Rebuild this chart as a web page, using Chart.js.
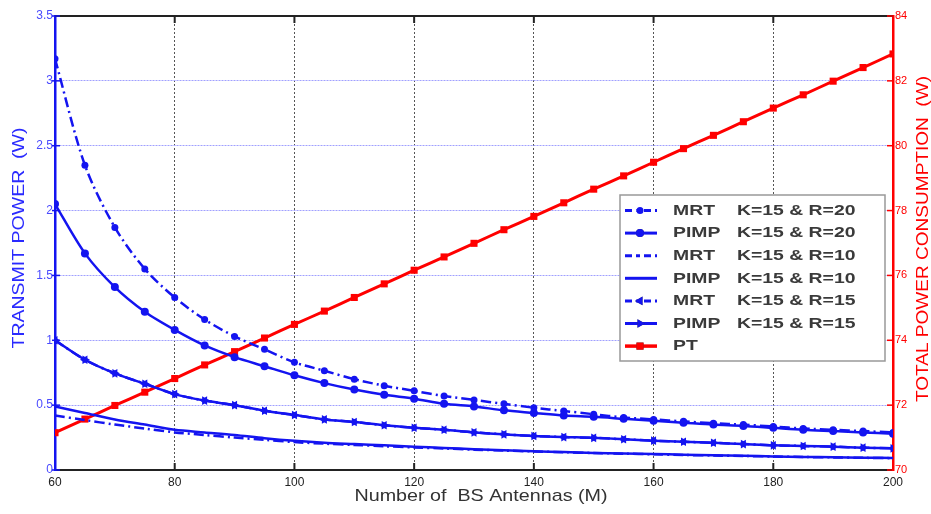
<!DOCTYPE html>
<html>
<head>
<meta charset="utf-8">
<script src="https://cdn.jsdelivr.net/npm/chart.js@4.4.0/dist/chart.umd.min.js"></script>
<style>
  html, body { margin: 0; padding: 0; background: #fff; }
  #wrap { width: 931px; height: 514px; position: relative; }
</style>
</head>
<body>
<div id="wrap"><canvas id="myChart" width="931" height="514"></canvas></div>
<script>
// number of BS antennas
const antennas = [60, 65, 70, 75, 80, 85, 90, 95, 100, 105, 110, 115, 120, 125, 130, 135, 140, 145, 150, 155, 160, 165, 170, 175, 180, 185, 190, 195, 200];

// transmit power (W), left axis
const mrtR20 = [3.17, 2.35, 1.87, 1.55, 1.33, 1.16, 1.03, 0.93, 0.83, 0.765, 0.70, 0.65, 0.61, 0.57, 0.54, 0.51, 0.48, 0.455, 0.43, 0.405, 0.39, 0.375, 0.36, 0.35, 0.335, 0.32, 0.31, 0.30, 0.29];
const pimpR20 = [2.05, 1.67, 1.41, 1.22, 1.08, 0.96, 0.87, 0.80, 0.73, 0.67, 0.62, 0.58, 0.55, 0.51, 0.49, 0.46, 0.44, 0.42, 0.41, 0.395, 0.38, 0.365, 0.35, 0.34, 0.325, 0.31, 0.30, 0.29, 0.28];
const mrtR10 = [0.42, 0.385, 0.35, 0.32, 0.29, 0.27, 0.25, 0.233, 0.215, 0.203, 0.193, 0.183, 0.174, 0.166, 0.157, 0.15, 0.143, 0.137, 0.131, 0.126, 0.121, 0.116, 0.112, 0.108, 0.104, 0.100, 0.097, 0.094, 0.091];
const pimpR10 = [0.49, 0.44, 0.39, 0.35, 0.31, 0.29, 0.27, 0.245, 0.225, 0.21, 0.20, 0.19, 0.18, 0.17, 0.16, 0.152, 0.145, 0.138, 0.132, 0.128, 0.123, 0.118, 0.113, 0.109, 0.105, 0.101, 0.098, 0.095, 0.092];
const mrtR15 = [1.0, 0.85, 0.745, 0.665, 0.585, 0.535, 0.50, 0.457, 0.424, 0.39, 0.37, 0.345, 0.326, 0.31, 0.29, 0.275, 0.262, 0.254, 0.248, 0.237, 0.226, 0.218, 0.21, 0.20, 0.19, 0.185, 0.18, 0.172, 0.167];
const pimpR15 = [1.0, 0.85, 0.745, 0.665, 0.585, 0.535, 0.50, 0.457, 0.424, 0.39, 0.37, 0.345, 0.326, 0.31, 0.29, 0.275, 0.262, 0.254, 0.248, 0.237, 0.226, 0.218, 0.21, 0.20, 0.19, 0.185, 0.18, 0.172, 0.167];

// total power consumption (W), right axis
const totalPower = [71.15, 71.57, 71.99, 72.40, 72.82, 73.24, 73.65, 74.07, 74.49, 74.90, 75.32, 75.74, 76.16, 76.57, 76.99, 77.41, 77.82, 78.24, 78.66, 79.07, 79.49, 79.91, 80.32, 80.74, 81.16, 81.57, 81.99, 82.41, 82.83];

const schemes = ["MRT", "PIMP", "MRT", "PIMP", "MRT", "PIMP", "PT"];
const params = ["K=15 & R=20", "K=15 & R=20", "K=15 & R=10", "K=15 & R=10", "K=15 & R=15", "K=15 & R=15", ""];

const xTitle = "Number of  BS Antennas (M)";
const yTitle = "TRANSMIT POWER  (W)";
const y2Title = "TOTAL POWER CONSUMPTION  (W)";

const BLUE = "#1414f0";
const RED = "#ff0000";
const DASHDOT = [10, 4, 2, 4];
const FONT = "'Liberation Sans', Arial, sans-serif";

const pts = (arr) => arr.map((v, i) => ({ x: antennas[i], y: v }));

const datasets = [
  { data: pts(mrtR20), borderDash: DASHDOT, pointStyle: "circle", pointRadius: 3.5 },
  { data: pts(pimpR20), borderDash: [], pointStyle: "circle", pointRadius: 4 },
  { data: pts(mrtR10), borderDash: DASHDOT, pointStyle: false, pointRadius: 0 },
  { data: pts(pimpR10), borderDash: [], pointStyle: false, pointRadius: 0 },
  { data: pts(mrtR15), borderDash: DASHDOT, pointStyle: "triangle", pointRotation: -90, pointRadius: 5 },
  { data: pts(pimpR15), borderDash: [], pointStyle: "triangle", pointRotation: 90, pointRadius: 5 },
  { data: pts(totalPower), borderDash: [], pointStyle: "rect", pointRadius: 5, yAxisID: "y2" },
].map((d, i) => ({
  label: schemes[i] + "    " + params[i],
  yAxisID: "y",
  borderColor: i === 6 ? RED : BLUE,
  backgroundColor: i === 6 ? RED : BLUE,
  borderWidth: i === 6 ? 3 : 2.5,
  tension: 0.3,
  ...d,
  pointBorderWidth: 0,
  pointHoverRadius: 0,
}));

// text is a bit wide in the original, so stretch it horizontally
function wideText(ctx, text, x, y, rot, sx) {
  ctx.save();
  ctx.translate(x, y);
  ctx.rotate(rot);
  ctx.scale(sx, 1);
  ctx.fillText(text, 0, 0);
  ctx.restore();
}
function fitText(ctx, text, x, y, rot, width) {
  wideText(ctx, text, x, y, rot, width / ctx.measureText(text).width);
}

// box lines, axis titles and the legend drawn on the canvas
const extras = {
  id: "extras",
  afterDraw(chart) {
    const ctx = chart.ctx;
    const a = chart.chartArea;
    const xs = chart.scales.x;
    const ys = chart.scales.y;
    const ys2 = chart.scales.y2;
    ctx.save();
    // top border + inner ticks
    ctx.strokeStyle = "#222";
    ctx.lineWidth = 2;
    ctx.beginPath();
    ctx.moveTo(a.left, a.top);
    ctx.lineTo(a.right, a.top);
    ctx.stroke();
    xs.ticks.forEach((t) => {
      if (t.value === 60 || t.value === 200) return;
      const px = xs.getPixelForValue(t.value);
      ctx.beginPath();
      ctx.moveTo(px, a.top);
      ctx.lineTo(px, a.top + 7);
      ctx.moveTo(px, a.bottom);
      ctx.lineTo(px, a.bottom - 7);
      ctx.stroke();
    });
    ctx.lineWidth = 1.5;
    ctx.strokeStyle = BLUE;
    ys.ticks.forEach((t) => {
      const py = ys.getPixelForValue(t.value);
      ctx.beginPath();
      ctx.moveTo(a.left - 3, py);
      ctx.lineTo(a.left + 5, py);
      ctx.stroke();
    });
    ctx.strokeStyle = RED;
    ys2.ticks.forEach((t) => {
      const py = ys2.getPixelForValue(t.value);
      ctx.beginPath();
      ctx.moveTo(a.right - 6, py);
      ctx.lineTo(a.right, py);
      ctx.stroke();
    });

    // axis titles
    ctx.textAlign = "center";
    ctx.textBaseline = "middle";
    ctx.font = "17px " + FONT;
    ctx.fillStyle = "#333";
    fitText(ctx, xTitle, 481, 496, 0, 253);
    ctx.fillStyle = "#2a2aff";
    fitText(ctx, yTitle, 19, 238, -Math.PI / 2, 221);
    ctx.fillStyle = RED;
    fitText(ctx, y2Title, 923, 239, -Math.PI / 2, 326);
    ctx.restore();

    // legend
    ctx.save();
    const bx = 620, by = 195, bw = 265, bh = 166;
    ctx.fillStyle = "#fff";
    ctx.fillRect(bx, by, bw, bh);
    ctx.strokeStyle = "#999";
    ctx.lineWidth = 1.5;
    ctx.strokeRect(bx, by, bw, bh);
    chart.data.datasets.forEach((ds, i) => {
      const y = 210.5 + i * 22.6;
      ctx.strokeStyle = ds.borderColor;
      ctx.lineWidth = ds.borderWidth + 0.5;
      ctx.setLineDash(ds.borderDash.length ? [7, 4, 4, 4] : []);
      ctx.beginPath();
      ctx.moveTo(625, y);
      ctx.lineTo(657, y);
      ctx.stroke();
      ctx.setLineDash([]);
      if (ds.pointStyle) {
        Chart.helpers.drawPoint(ctx, {
          pointStyle: ds.pointStyle,
          rotation: ds.pointRotation || 0,
          radius: ds.pointRadius,
          borderWidth: 0,
        }, 640, y);
        ctx.fillStyle = ds.backgroundColor;
        ctx.fill();
      }
      ctx.fillStyle = "#3a3a3a";
      ctx.font = "bold 15.5px " + FONT;
      ctx.textAlign = "left";
      ctx.textBaseline = "middle";
      wideText(ctx, schemes[i], 673, y, 0, 1.25);
      wideText(ctx, params[i], 737, y, 0, 1.25);
    });
    ctx.restore();
  },
};

new Chart("myChart", {
  type: "line",
  data: { datasets: datasets },
  plugins: [extras],
  options: {
    responsive: false,
    animation: false,
    events: [],
    layout: { padding: { top: 16, right: 0, left: 0, bottom: 0 } },
    plugins: { legend: { display: false }, tooltip: { enabled: false } },
    scales: {
      x: {
        type: "linear",
        min: 60,
        max: 200,
        afterFit: (s) => { s.height = 44; },
        ticks: {
          stepSize: 20,
          color: "#222",
          font: { size: 12, family: FONT },
          padding: 5,
        },
        grid: {
          color: (c) => (c.tick.value === 60 || c.tick.value === 200 ? "rgba(0,0,0,0)" : "#555"),
          lineWidth: 1,
          drawTicks: false,
        },
        border: { color: "#222", width: 2, dash: [2, 2] },
      },
      y: {
        position: "left",
        min: 0,
        max: 3.5,
        afterFit: (s) => { s.width = 55; },
        ticks: {
          stepSize: 0.5,
          color: "#4a4aff",
          font: { size: 12, family: FONT },
          padding: 2,
          callback: (v) => String(v),
        },
        grid: {
          color: (c) => (c.tick.value === 0 || c.tick.value === 3.5 ? "rgba(0,0,0,0)" : "#a0a0ff"),
          drawTicks: false,
          lineWidth: 1,
        },
        border: { color: BLUE, width: 2.5, dash: [2, 1] },
      },
      y2: {
        position: "right",
        min: 70,
        max: 84,
        afterFit: (s) => { s.width = 38; },
        ticks: {
          stepSize: 2,
          color: RED,
          font: { size: 11, family: FONT },
          padding: 2,
          callback: (v) => String(v),
        },
        grid: { drawOnChartArea: false, drawTicks: false },
        border: { color: RED, width: 2.5 },
      },
    },
  },
});
</script>
</body>
</html>
